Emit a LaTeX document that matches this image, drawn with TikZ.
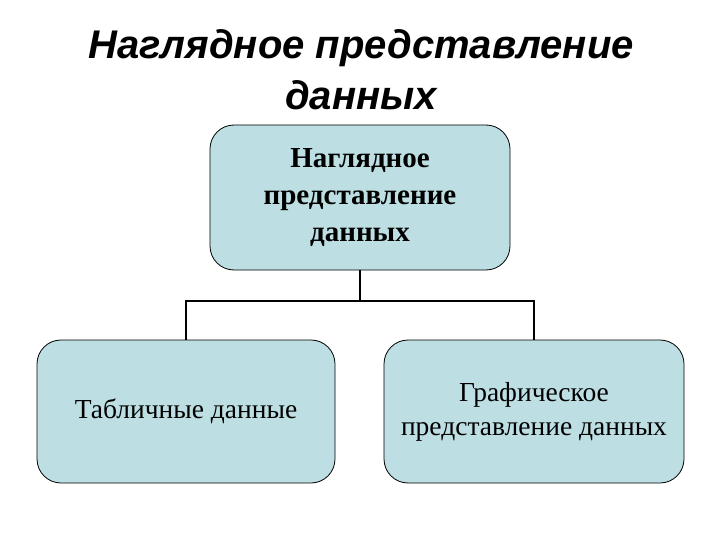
\documentclass[tikz,border=0pt]{standalone}
\usepackage{fontspec}
\setmainfont{Liberation Serif}
\newfontfamily\titlefont{Liberation Sans}
\definecolor{boxfill}{HTML}{BDDFE3}
\begin{document}
\begin{tikzpicture}[x=1pt,y=-1pt,
  box/.style={draw=black, line width=0.8pt, fill=boxfill, rounded corners=24pt, align=center, inner sep=0pt},
  conn/.style={line width=2pt}]
\useasboundingbox (0,0) rectangle (720,540);
\node[font=\titlefont\bfseries\itshape\fontsize{40}{51}\selectfont, align=center] (title) at (361,70) {Наглядное представление\\данных};
\node[box, minimum width=300pt, minimum height=145pt, font=\bfseries\fontsize{29}{37}\selectfont] (top) at (360,197.5) {Наглядное\\представление\\данных};
\node[box, minimum width=298pt, minimum height=143pt, font=\fontsize{27.5}{34}\selectfont] (left) at (186,411.5) {Табличные данные};
\node[box, minimum width=300pt, minimum height=143pt, font=\fontsize{27.5}{34}\selectfont] (right) at (534,411.5) {\raisebox{0pt}[0pt][0pt]{}Графическое\\представление данных};
\draw[conn] (top.south) -- ([yshift=-31pt]top.south) coordinate (m);
\draw[conn] (m) -| (left.north);
\draw[conn] (m) -| (right.north);
\end{tikzpicture}
\end{document}
